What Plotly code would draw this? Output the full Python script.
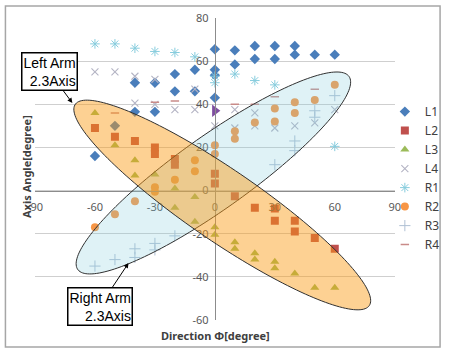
import numpy as np
import plotly.graph_objects as go

# ---------------- data ----------------
series_names = ["L1", "L2", "L3", "L4", "R1", "R2", "R3", "R4"]

l1_x = [-60, -50, -40, -40, -30, -30, -20, -20, -10, -10, 0, 0, 0, 0, 10, 10, 20, 20, 30, 30, 40, 40, 50, 60]
l1_y = [16, 30, 50, 36.5, 50, 36.5, 54, 46, 56, 46, 65.5, 56, 53.5, 43, 65, 58.5, 67, 61, 67, 61, 67, 63, 63, 63]

l2_x = [-60, -50, -40, -30, -30, -20, -20, 0, 0, 10, 20, 30, 30, 40, 40, 50, 60]
l2_y = [29, 25, 23, 20, 17, 14.6, 12, 7.8, 3.3, -2.6, -8, -8.3, -14, -14, -19, -22, -27]

l3_x = [-60, -50, -40, -40, -30, -20, -20, -10, -10, 0, 0, 10, 10, 20, 20, 30, 30, 40, 50, 60]
l3_y = [36, 21, 14, 7, 7.5, 1, -8, -3, -14.5, -17, -20.5, -24, -27, -29, -32, -33, -36, -38.5, -45, -45]

l4_x = [-60, -50, -40, -40, -30, -30, -20, -10, -10, 0, 10, 10, 20, 20, 30, 40, 50, 60]
l4_y = [55, 55, 53, 40.5, 51.5, 40, 37.5, 47, 37.5, 30, 37.5, 29, 36, 30, 29, 30, 31.4, 37.5]

r1_x = [-60, -50, -40, -30, -20, -10, 0, 0, 10, 20, 30, 60]
r1_y = [68, 68, 66, 64.5, 64, 62, 53, 50, 54, 51, 49, 20.5]

r2_x = [-60, -50, -40, -30, -30, -20, -10, -10, 0, 0, 10, 10, 20, 30, 30, 40, 40, 50, 60]
r2_y = [-17, -11, -5, 1.5, -0.5, 5, 14, 9, 21, 17, 27.5, 24, 31.5, 38, 32, 41, 36, 42, 49]

r3_x = [-60, -50, -40, -40, -30, -30, -20, 30, 40, 40, 50, 50, 60]
r3_y = [-35, -32, -27, -31, -24.5, -27.5, -21, 12, 23, 18.5, 37, 34, 44]

r4_x = [-50, -30, -20, 10, 20, 30, 50]
r4_y = [36, 41, 41.5, 40, 40, 43.5, 47]

extra_x = [0]
extra_y = [37]

x_ticks = [-90, -60, -30, 0, 30, 60, 90]
x_tick_labels = ["-90", "-60", "-30", "0", "30", "60", "90"]
y_ticks = [-60, -40, -20, 0, 20, 40, 60, 80]
y_tick_labels = ["-60", "-40", "-20", "0", "20", "40", "60", "80"]

# ---------------- styles ----------------
styles = {
    "L1": dict(symbol="diamond", size=8, color="#4A7EBB", lw=0),
    "L2": dict(symbol="square", size=8, color="#C0504D", lw=0),
    "L3": dict(symbol="triangle-up", size=8, color="#9BBB59", lw=0),
    "L4": dict(symbol="x-thin-open", size=7, color="#B4B4C4", lw=1.1),
    "R1": dict(symbol="asterisk-open", size=8, color="#86CCDD", lw=1.0),
    "R2": dict(symbol="circle", size=8, color="#F79646", lw=0),
    "R3": dict(symbol="cross-thin-open", size=8, color="#B0C0D4", lw=1.0),
    "R4": dict(symbol="line-ew-open", size=6, color="#C98B89", lw=1.5),
}
series_data = {
    "L1": (l1_x, l1_y), "L2": (l2_x, l2_y), "L3": (l3_x, l3_y), "L4": (l4_x, l4_y),
    "R1": (r1_x, r1_y), "R2": (r2_x, r2_y), "R3": (r3_x, r3_y), "R4": (r4_x, r4_y),
}

fig = go.Figure()
for name in series_names:
    xs, ys = series_data[name]
    st = styles[name]
    fig.add_trace(go.Scatter(
        x=xs, y=ys, mode="markers", name=name,
        marker=dict(symbol=st["symbol"], size=st["size"], color=st["color"],
                    line=dict(width=st["lw"], color=st["color"])),
    ))
fig.add_trace(go.Scatter(x=extra_x, y=extra_y, mode="markers", showlegend=False,
                         marker=dict(symbol="triangle-right", size=11, color="#7F4FA0")))


def ellipse_path(cx, cy, ux, uy, vx, vy, n=180):
    t = np.linspace(0, 2 * np.pi, n)
    xs = cx + ux * np.cos(t) + vx * np.sin(t)
    ys = cy + uy * np.cos(t) + vy * np.sin(t)
    return "M " + " L ".join(f"{a:.3f},{b:.3f}" for a, b in zip(xs, ys)) + " Z"


blue_path = ellipse_path(-0.74, 8.16, 67.9, 44.7, 10.3, -13.9)
orange_path = ellipse_path(3.70, -6.68, 73.6, -46.6, -9.9, -13.8)

XD = 365 / 415  # x domain end (plot area 35..400 px of 450)

shapes = [
    dict(type="path", path=blue_path, xref="x", yref="y", layer="above",
         fillcolor="rgba(130,205,222,0.26)", line=dict(color="#303030", width=1)),
    dict(type="path", path=orange_path, xref="x", yref="y", layer="above",
         fillcolor="rgba(250,155,20,0.46)", line=dict(color="#303030", width=1)),
    dict(type="rect", xref="paper", yref="paper", x0=-0.0723, x1=0.9904, y0=-0.0894, y1=1.0397,
         line=dict(color="#A6A6A6", width=1.5), layer="above"),
]

annotations = [
    dict(text="<b>Axis Angle[degree]</b>", xref="paper", yref="paper", x=-0.0193, y=0.507,
         xanchor="center", yanchor="middle",
         textangle=-90, showarrow=False, font=dict(family="Noto Sans", size=11, color="#404040")),
    dict(text="<b>Direction Φ[degree]</b>", xref="paper", yref="paper", x=0.441, y=-0.05,
         xanchor="center", yanchor="middle",
         showarrow=False, font=dict(family="Noto Sans", size=11, color="#404040")),
    dict(text="Left Arm<br>2.3Axis", x=-71.3, y=40.6, xref="x", yref="y", ax=-23, ay=-31,
         showarrow=True, arrowhead=2, arrowsize=1, arrowwidth=1, arrowcolor="#000000",
         align="right", bgcolor="#FFFFFF", bordercolor="#000000", borderwidth=1.5, borderpad=1,
         font=dict(family="Liberation Sans", size=14, color="#000000")),
    dict(text="Right Arm<br>2.3Axis", x=-43.2, y=-33.6, xref="x", yref="y", ax=-29, ay=43.5,
         showarrow=True, arrowhead=2, arrowsize=1, arrowwidth=1, arrowcolor="#000000",
         align="right", bgcolor="#FFFFFF", bordercolor="#000000", borderwidth=1.5, borderpad=1,
         font=dict(family="Liberation Sans", size=14, color="#000000")),
]

fig.update_layout(
    width=450, height=351,
    margin=dict(l=35, r=0, t=18, b=31),
    paper_bgcolor="#FFFFFF", plot_bgcolor="#FFFFFF",
    shapes=shapes, annotations=annotations,
    xaxis=dict(domain=[0, XD], range=[-90, 90], tickvals=x_ticks, ticktext=x_tick_labels,
               showgrid=False, zeroline=False, showline=True, linecolor="#8C8C8C", linewidth=1,
               anchor="free", position=60 / 140, ticks="", ticklabelstandoff=6,
               tickfont=dict(family="Noto Sans", size=11, color="#595959")),
    yaxis=dict(range=[-60, 80], tickvals=y_ticks, ticktext=y_tick_labels,
               showgrid=True, gridcolor="#CFCFCF", gridwidth=1, zeroline=False,
               showline=True, linecolor="#8C8C8C", linewidth=1,
               anchor="free", position=XD / 2, ticks="", ticklabelstandoff=4,
               tickfont=dict(family="Noto Sans", size=11, color="#595959")),
    legend=dict(x=0.8554, y=0.738, xanchor="left", yanchor="top",
                font=dict(family="Noto Sans", size=12, color="#404040"),
                bgcolor="rgba(0,0,0,0)"),
    showlegend=True,
)

fig.write_html("out.html", config={"displayModeBar": False},
               post_script="document.body.style.margin='0';document.body.style.overflow='hidden';")
